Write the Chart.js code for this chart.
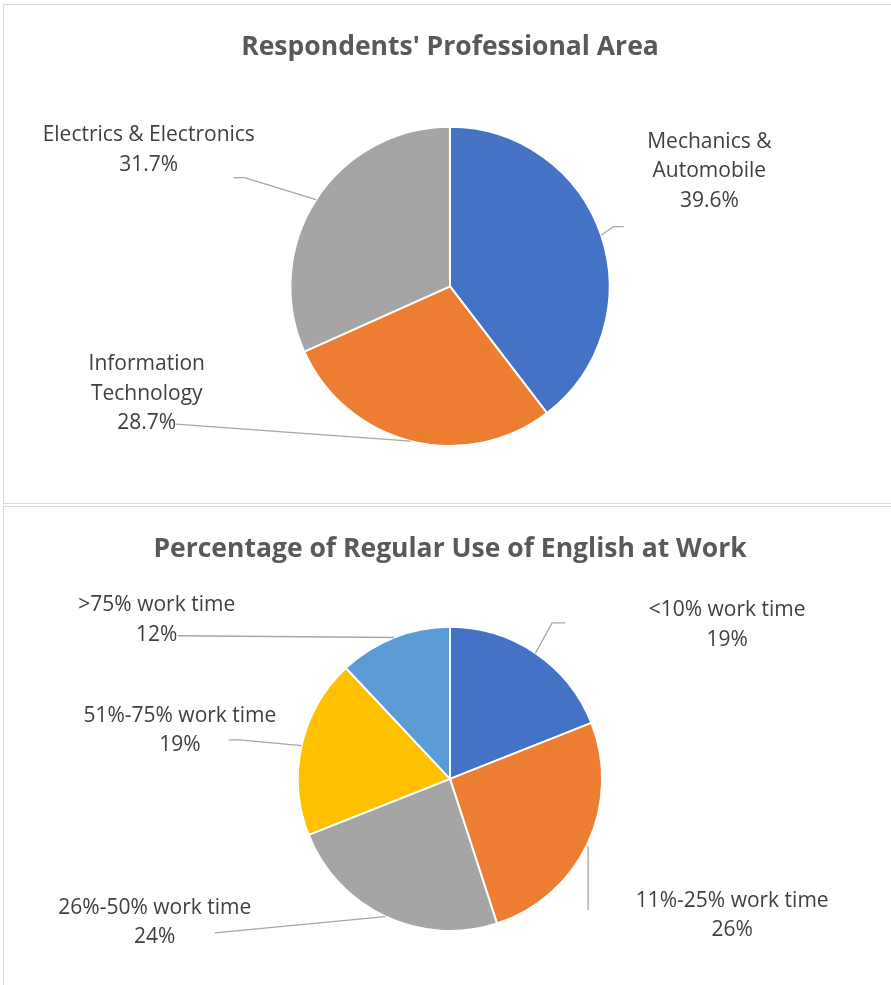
<!DOCTYPE html>
<html>
<head>
<meta charset="utf-8">
<script src="https://cdn.jsdelivr.net/npm/chart.js@4/dist/chart.umd.min.js"></script>
<style>
  html, body { margin: 0; padding: 0; background: #ffffff; }
  body { width: 891px; height: 985px; position: relative; overflow: hidden; }
  .box { position: absolute; border: 1.5px solid #d9d9d9; box-sizing: border-box; background: #fff; }
  canvas { position: absolute; left: 0; }
</style>
</head>
<body>
<div class="box" style="left:3px; top:4px; width:900px; height:500px;"></div>
<div class="box" style="left:3px; top:506px; width:900px; height:500px;"></div>
<canvas id="c1" width="891" height="503" style="top:0;"></canvas>
<canvas id="c2" width="891" height="478" style="top:507px;"></canvas>
<script>
// ---- Data ----
const topTitle = "Respondents' Professional Area";
const topCategories = ['Mechanics & Automobile', 'Information Technology', 'Electrics & Electronics'];
const topLabelLines = [['Mechanics &', 'Automobile'], ['Information', 'Technology'], ['Electrics & Electronics']];
const topValues = [39.6, 28.7, 31.7];

const bottomTitle = 'Percentage of Regular Use of English at Work';
const bottomCategories = ['<10% work time', '11%-25% work time', '26%-50% work time', '51%-75% work time', '>75% work time'];
const bottomLabelLines = [['<10% work time'], ['11%-25% work time'], ['26%-50% work time'], ['51%-75% work time'], ['>75% work time']];
const bottomValues = [19, 26, 24, 19, 12];

// ---- Styling / layout (not data) ----
const topColors = ['#4472C4', '#ED7D31', '#A5A5A5'];
const bottomColors = ['#4472C4', '#ED7D31', '#A5A5A5', '#FFC000', '#5B9BD5'];

// label placement, in units of pie radius relative to pie centre
const topLabelLayout = [
  { text: [1.625, -0.731], leader: [[1.0875, -0.375], [1.025, -0.375]] },
  { text: [-1.9, 0.6625], leader: [[-1.719, 0.8625]] },
  { text: [-1.8875, -0.8625], leader: [[-1.356, -0.681], [-1.2875, -0.681]] }
];
const bottomLabelLayout = [
  { text: [1.822, -1.020], leader: [[0.757, -1.026], [0.671, -1.026]] },
  { text: [1.855, 0.888], leader: [[0.908, 0.862], [0.908, 0.5]], vertical: true },
  { text: [-1.941, 0.934], leader: [[-1.546, 1.013]] },
  { text: [-1.776, -0.329], leader: [[-1.454, -0.257], [-1.382, -0.257]] },
  { text: [-1.928, -1.053], leader: [[-1.789, -0.941]] }
];

const LABEL_FONT = '21px "Open Sans", sans-serif';
const TITLE_FONT_FAMILY = '"Open Sans", sans-serif';

const pieLabels = {
  id: 'pieLabels',
  afterDatasetsDraw(chart, args, opts) {
    const ctx = chart.ctx;
    const meta = chart.getDatasetMeta(0);
    const values = chart.data.datasets[0].data;
    ctx.save();
    meta.data.forEach((arc, i) => {
      const p = arc.getProps(['x', 'y', 'startAngle', 'endAngle', 'outerRadius'], true);
      const r = p.outerRadius;
      const mid = (p.startAngle + p.endAngle) / 2;
      const ex = p.x + Math.cos(mid) * r;
      const ey = p.y + Math.sin(mid) * r;
      const lay = opts.layout[i];
      ctx.beginPath();
      ctx.strokeStyle = '#A6A6A6';
      ctx.lineWidth = 1.3;
      const pts = lay.leader.map(d => [p.x + d[0] * r, p.y + d[1] * r]);
      if (lay.vertical) {
        ctx.moveTo(pts[0][0], pts[0][1]);
        ctx.lineTo(pts[0][0], ey + 2);
      } else {
        ctx.moveTo(pts[0][0], pts[0][1]);
        for (let k = 1; k < pts.length; k++) ctx.lineTo(pts[k][0], pts[k][1]);
        ctx.lineTo(ex, ey);
      }
      ctx.stroke();
      const lines = opts.lines[i].concat([opts.format(values[i])]);
      const tx = p.x + lay.text[0] * r;
      const ty = p.y + lay.text[1] * r + opts.textShift;
      const lh = opts.lineHeight;
      ctx.fillStyle = '#404040';
      ctx.font = opts.font;
      ctx.textAlign = 'center';
      ctx.textBaseline = 'middle';
      const y0 = ty - (lines.length - 1) * lh / 2;
      lines.forEach((t, k) => ctx.fillText(t, tx, y0 + k * lh));
    });
    ctx.restore();
  }
};

function makePie(id, title, cats, lines, vals, colors, layout, fmt, titlePad, layoutPad) {
  return new Chart(document.getElementById(id), {
    type: 'pie',
    data: {
      labels: cats,
      datasets: [{ data: vals, backgroundColor: colors, borderColor: '#ffffff', borderWidth: 2 }]
    },
    options: {
      responsive: false,
      animation: false,
      layout: { padding: layoutPad },
      plugins: {
        legend: { display: false },
        tooltip: { enabled: false },
        title: {
          display: true,
          text: title,
          color: '#595959',
          font: { family: TITLE_FONT_FAMILY, size: 26.5, weight: 'bold', lineHeight: 1.2 },
          padding: titlePad
        },
        pieLabels: { layout: layout, lines: lines, format: fmt, font: LABEL_FONT, lineHeight: 29.5, textShift: 1.5 }
      }
    },
    plugins: [pieLabels]
  });
}

makePie('c1', topTitle, topCategories, topLabelLines, topValues, topColors, topLabelLayout,
  v => v.toFixed(1) + '%', { top: 32, bottom: 62 }, { left: 9, right: 0, top: 0, bottom: 56 });
makePie('c2', bottomTitle, bottomCategories, bottomLabelLines, bottomValues, bottomColors, bottomLabelLayout,
  v => Math.round(v) + '%', { top: 27, bottom: 60 }, { left: 9, right: 0, top: 0, bottom: 53 });
</script>
</body>
</html>
